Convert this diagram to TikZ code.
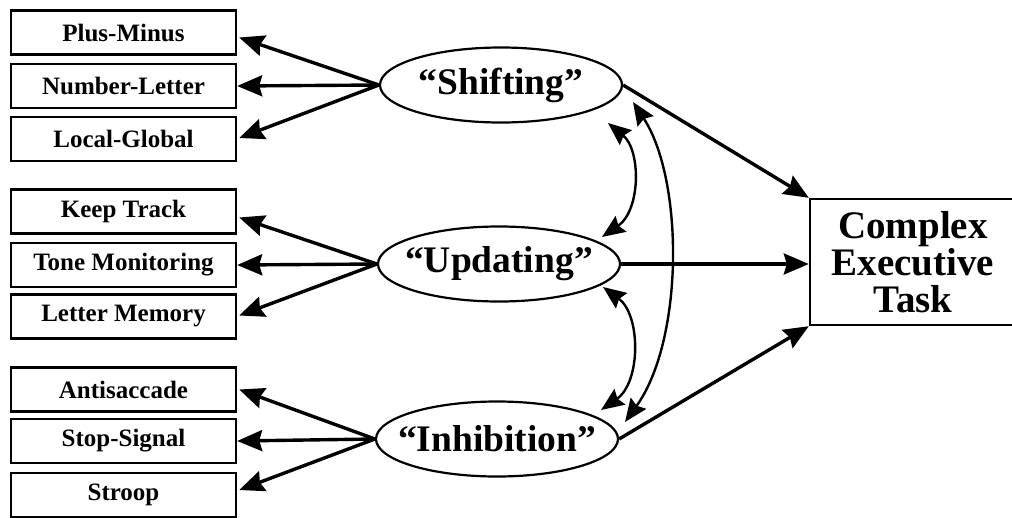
\documentclass[tikz,border=0pt]{standalone}
\usepackage{fontspec}
\setmainfont{Liberation Serif}
\usetikzlibrary{arrows.meta,shapes.geometric,calc}
\begin{document}
\begin{tikzpicture}[x=1pt,y=-1pt,
  task/.style={draw, line width=2.4pt, minimum width=225pt, minimum height=44pt, inner sep=0pt,
    font=\fontsize{25}{25}\selectfont\bfseries},
  factor/.style={draw, ellipse, line width=2.2pt, minimum width=242pt, minimum height=75pt, inner sep=0pt,
    font=\fontsize{37.5}{37.5}\selectfont\bfseries},
  arr/.style={line width=3.4pt, -{Stealth[length=25pt,width=21pt,inset=3pt]}},
  darr/.style={line width=2.4pt, {Stealth[length=23pt,width=19pt,inset=3pt]}-{Stealth[length=23pt,width=19pt,inset=3pt]}}]
\useasboundingbox (0,0) rectangle (1012,517);

% task boxes
\node[task] (pm) at (123.5,32.5) {Plus-Minus};
\node[task] (nl) at (123.5,86) {Number-Letter};
\node[task] (lg) at (123.5,139) {Local-Global};
\node[task] (kt) at (123.5,211.5) {Keep Track};
\node[task] (tm) at (123.5,265) {Tone Monitoring};
\node[task] (lm) at (123.5,316.5) {Letter Memory};
\node[task] (as) at (123.5,389.5) {Antisaccade};
\node[task] (ss) at (123.5,441) {Stop-Signal};
\node[task] (st) at (123.5,495) {Stroop};

% latent factors
\node[factor] (shift) at (501,85) {\makebox[0pt]{“Shifting”}};
\node[factor] (upd) at (499,264) {\makebox[0pt]{“Updating”}};
\node[factor] (inh) at (497,439) {\makebox[0pt]{“Inhibition”}};

% complex task
\node[draw, line width=2.4pt, minimum width=206pt, minimum height=126pt, inner sep=0pt, align=center,
  font=\fontsize{39}{37}\selectfont\bfseries] (cet) at (913,262) {Complex\\Executive\\Task};

% loadings
\draw[arr] (shift.west) -- ($(pm.east)+(2,5)$);
\draw[arr] (shift.west) -- (nl.east);
\draw[arr] (shift.west) -- ($(lg.east)+(2,-1)$);
\draw[arr] (upd.west) -- ($(kt.east)+(2,6)$);
\draw[arr] (upd.west) -- (tm.east);
\draw[arr] (upd.west) -- ($(lm.east)+(2,-1)$);
\draw[arr] (inh.west) -- ($(as.east)+(2,0)$);
\draw[arr] (inh.west) -- (ss.east);
\draw[arr] (inh.west) -- ($(st.east)+(2,-5)$);

% paths to complex task
\draw[arr] (shift.east) -- (cet.north west);
\draw[arr] (upd.east) -- (upd.east -| cet.west);
\draw[arr] (inh.east) -- (cet.south west);

% correlations
\coordinate (su1) at (608,123);
\coordinate (su2) at (602,237);
\coordinate (ui1) at (603,287);
\coordinate (ui2) at (601,410);
\coordinate (si1) at (633,102);
\coordinate (si2) at (625,422);
\draw[darr] (su1) .. controls (641,150) and (641,210) .. (su2);
\draw[darr] (ui1) .. controls (641,315) and (641,382) .. (ui2);
\draw[darr] (si1) .. controls (684,180) and (684,340) .. (si2);
\end{tikzpicture}
\end{document}
